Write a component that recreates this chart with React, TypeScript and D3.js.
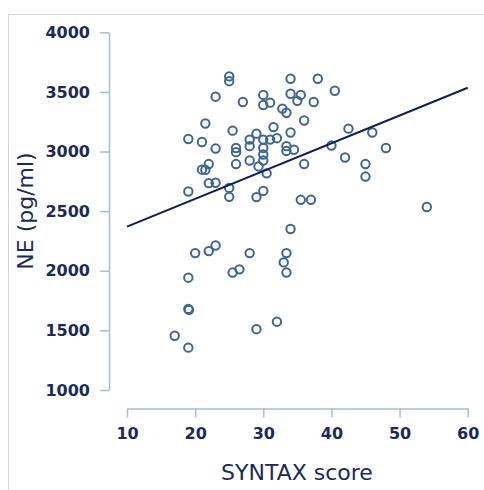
import React, { useEffect, useRef } from "react";
import * as d3 from "d3";

// SYNTAX score of each patient
const syntaxScores = [
  25, 25, 23, 27, 30, 30, 31, 34, 34, 35.5, 35, 38, 37.4, 40.5, 32.8, 33.4, 36, 21.5, 19, 21,
  25.5, 29, 28, 28, 30, 31, 31.5, 32, 34, 23, 26, 26, 26, 30, 30, 30, 29.3, 30.5, 33.4, 33.4,
  34.5, 28, 22, 21, 21.5, 22, 23, 25, 25, 19, 30, 29, 36, 40, 42.5, 42, 45, 45, 46, 48,
  35.5, 37, 54, 34, 23, 22, 20, 28, 33.4, 33, 33.4, 26.5, 25.5, 19, 19, 19.1, 32, 29, 17, 19,
];

// NE (pg/ml) of each patient
const neValues = [
  3630, 3590, 3460, 3415, 3475, 3390, 3410, 3610, 3485, 3475, 3425, 3610, 3415, 3510, 3360, 3325, 3260, 3235, 3105, 3080,
  3175, 3150, 3100, 3045, 3100, 3100, 3205, 3112, 3160, 3025, 3030, 2995, 2895, 3030, 2975, 2925, 2875, 2817, 3045, 3005,
  3015, 2925, 2895, 2848, 2846, 2735, 2738, 2695, 2620, 2665, 2670, 2618, 2895, 3050, 3192, 2950, 2895, 2790, 3160, 3030,
  2595, 2595, 2535, 2350, 2212, 2165, 2148, 2148, 2148, 2070, 1985, 2012, 1985, 1942, 1680, 1672, 1573, 1510, 1455, 1355,
];

// fitted line end points (x, y)
const fitX = [10, 60];
const fitY = [2370, 3535];

const xTicks = [10, 20, 30, 40, 50, 60];
const yTicks = [1000, 1500, 2000, 2500, 3000, 3500, 4000];

const App = () => {
  const svgRef = useRef<SVGSVGElement>(null);

  useEffect(() => {
    const svg = d3.select(svgRef.current);
    svg.selectAll("*").remove();

    const navy = "#1b2a5c";
    const axisColor = "#a9bcd6";
    const font = "'DejaVu Sans', Verdana, sans-serif";

    const xScale = d3.scaleLinear().domain([10, 60]).range([127, 467.7]);
    const yScale = d3.scaleLinear().domain([1000, 4000]).range([390, 32.3]);

    // frame
    svg.append("path")
      .attr("d", "M8.5,490 V14.5 H484")
      .attr("fill", "none")
      .attr("stroke", "#d4d4d4")
      .attr("stroke-width", 1);

    // y axis
    const yAxis = svg.append("g")
      .attr("transform", "translate(109,0)")
      .call(
        d3.axisLeft(yScale)
          .tickValues(yTicks)
          .tickFormat(d3.format("d"))
          .tickSize(9)
          .tickSizeOuter(0)
          .tickPadding(10)
      );
    yAxis.select(".domain").attr("stroke", axisColor).attr("stroke-width", 1.5);
    yAxis.selectAll("line").attr("stroke", axisColor).attr("stroke-width", 1.5);
    yAxis.selectAll("text")
      .attr("fill", navy)
      .style("font-family", font)
      .style("font-weight", "bold")
      .style("font-size", "16px");

    // x axis
    const xAxis = svg.append("g")
      .attr("transform", "translate(0,408.5)")
      .call(
        d3.axisBottom(xScale)
          .tickValues(xTicks)
          .tickFormat(d3.format("d"))
          .tickSize(9)
          .tickSizeOuter(0)
          .tickPadding(10)
      );
    xAxis.select(".domain").attr("stroke", axisColor).attr("stroke-width", 1.5);
    xAxis.selectAll("line").attr("stroke", axisColor).attr("stroke-width", 1.5);
    xAxis.selectAll("text")
      .attr("fill", navy)
      .style("font-family", font)
      .style("font-weight", "bold")
      .style("font-size", "16px");

    // axis titles
    svg.append("text")
      .attr("x", 297)
      .attr("y", 480)
      .attr("text-anchor", "middle")
      .attr("fill", navy)
      .style("font-family", font)
      .style("font-size", "22px")
      .text("SYNTAX score");

    svg.append("text")
      .attr("transform", "translate(33,211) rotate(-90)")
      .attr("text-anchor", "middle")
      .attr("fill", navy)
      .style("font-family", font)
      .style("font-size", "22px")
      .text("NE (pg/ml)");

    // points
    const points = syntaxScores.map((x, i) => ({ x, y: neValues[i] }));
    svg.append("g")
      .selectAll("circle")
      .data(points)
      .join("circle")
      .attr("cx", (d) => xScale(d.x))
      .attr("cy", (d) => yScale(d.y))
      .attr("r", 4.2)
      .attr("fill", "none")
      .attr("stroke", "#3e6594")
      .attr("stroke-width", 2);

    // fitted line
    const line = d3.line<number>()
      .x((d) => xScale(d))
      .y((_, i) => yScale(fitY[i]));
    svg.append("path")
      .datum(fitX)
      .attr("fill", "none")
      .attr("stroke", "#0c1d5c")
      .attr("stroke-width", 2)
      .attr("d", line);
  }, []);

  return (
    <svg
      ref={svgRef}
      width={484}
      height={490}
      style={{ position: "absolute", left: 0, top: 0, background: "#fff" }}
    />
  );
};

export default App;
